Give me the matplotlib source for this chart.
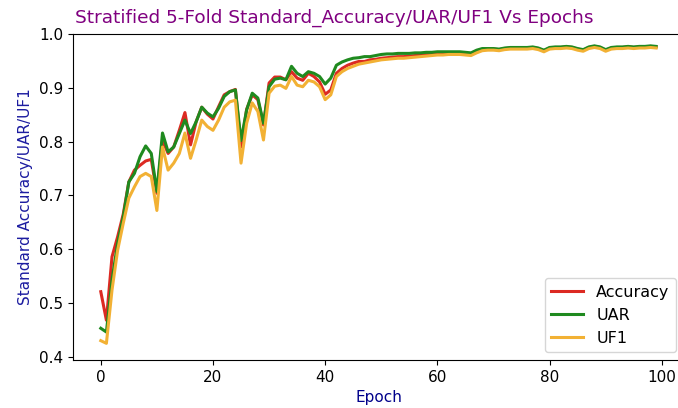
import numpy as np
import matplotlib.pyplot as plt

epochs = np.arange(100)

accuracy = [0.521, 0.468, 0.586, 0.623, 0.665, 0.725, 0.747, 0.756, 0.764, 0.767,
            0.704, 0.803, 0.778, 0.790, 0.821, 0.854, 0.794, 0.837, 0.864, 0.851,
            0.842, 0.865, 0.887, 0.893, 0.897, 0.790, 0.860, 0.887, 0.878, 0.831,
            0.909, 0.920, 0.920, 0.915, 0.930, 0.918, 0.914, 0.927, 0.921, 0.911,
            0.888, 0.896, 0.927, 0.936, 0.942, 0.946, 0.949, 0.949, 0.952, 0.953,
            0.955, 0.956, 0.957, 0.958, 0.958, 0.959, 0.960, 0.961, 0.962, 0.963,
            0.964, 0.964, 0.965, 0.965, 0.965, 0.964, 0.963, 0.968, 0.971, 0.972,
            0.972, 0.971, 0.973, 0.974, 0.974, 0.974, 0.974, 0.975, 0.973, 0.969,
            0.974, 0.975, 0.975, 0.976, 0.975, 0.972, 0.970, 0.975, 0.977, 0.975,
            0.970, 0.974, 0.975, 0.975, 0.976, 0.975, 0.976, 0.976, 0.977, 0.976]

uar = [0.453, 0.446, 0.543, 0.611, 0.660, 0.725, 0.741, 0.772, 0.792, 0.778,
       0.707, 0.816, 0.781, 0.790, 0.815, 0.840, 0.815, 0.837, 0.864, 0.853,
       0.846, 0.862, 0.884, 0.893, 0.896, 0.802, 0.859, 0.890, 0.881, 0.834,
       0.902, 0.916, 0.918, 0.915, 0.940, 0.927, 0.921, 0.930, 0.927, 0.921,
       0.907, 0.918, 0.942, 0.948, 0.952, 0.955, 0.956, 0.958, 0.958, 0.960,
       0.962, 0.963, 0.963, 0.964, 0.964, 0.964, 0.965, 0.965, 0.966, 0.966,
       0.967, 0.967, 0.967, 0.967, 0.967, 0.966, 0.965, 0.970, 0.973, 0.973,
       0.973, 0.972, 0.974, 0.975, 0.975, 0.975, 0.975, 0.976, 0.974, 0.970,
       0.975, 0.976, 0.976, 0.977, 0.976, 0.973, 0.971, 0.976, 0.978, 0.976,
       0.971, 0.975, 0.976, 0.976, 0.977, 0.976, 0.977, 0.977, 0.978, 0.977]

uf1 = [0.430, 0.425, 0.524, 0.598, 0.648, 0.695, 0.716, 0.735, 0.741, 0.735,
       0.672, 0.790, 0.747, 0.760, 0.778, 0.816, 0.769, 0.803, 0.840, 0.828,
       0.821, 0.840, 0.864, 0.874, 0.877, 0.760, 0.834, 0.872, 0.856, 0.803,
       0.890, 0.903, 0.905, 0.899, 0.921, 0.905, 0.902, 0.914, 0.911, 0.902,
       0.878, 0.887, 0.921, 0.930, 0.936, 0.940, 0.944, 0.946, 0.948, 0.950,
       0.952, 0.953, 0.954, 0.955, 0.955, 0.956, 0.957, 0.958, 0.959, 0.960,
       0.961, 0.961, 0.962, 0.962, 0.962, 0.961, 0.960, 0.965, 0.969, 0.970,
       0.970, 0.969, 0.971, 0.972, 0.972, 0.972, 0.972, 0.973, 0.971, 0.967,
       0.972, 0.973, 0.973, 0.974, 0.973, 0.970, 0.968, 0.973, 0.975, 0.973,
       0.968, 0.972, 0.973, 0.973, 0.974, 0.973, 0.974, 0.974, 0.975, 0.974]

fig = plt.figure(figsize=(6.78, 4.08), dpi=100)
# axes run past the right edge, the reference is cropped there
ax = fig.add_axes([0.1077, 0.1176, 0.901, 0.799])
ax.spines['right'].set_visible(False)

ax.plot(epochs, accuracy, color='#dc2a22', lw=2.2, solid_joinstyle='round', label='Accuracy')
ax.plot(epochs, uar, color='#1f8a1f', lw=2.2, solid_joinstyle='round', label='UAR')
ax.plot(epochs, uf1, color='#f2b134', lw=2.2, solid_joinstyle='round', label='UF1')

ax.set_xlim(-4.95, 103.95)
ax.set_ylim(0.394, 1.0)
ax.set_xticks([0, 20, 40, 60, 80, 100])
ax.set_yticks([0.4, 0.5, 0.6, 0.7, 0.8, 0.9, 1.0])
ax.tick_params(labelsize=11)

ax.set_title('Stratified 5-Fold Standard_Accuracy/UAR/UF1 Vs Epochs',
             color='purple', fontsize=13.3, pad=8, x=0.427)
ax.set_xlabel('Epoch', color='darkblue', fontsize=11)
ax.set_ylabel('Standard Accuracy/UAR/UF1', color='#1c1ca0', fontsize=11)
ax.legend(loc='lower right', fontsize=11.5, borderaxespad=0.5)

fig.savefig('out.png', dpi=100)
